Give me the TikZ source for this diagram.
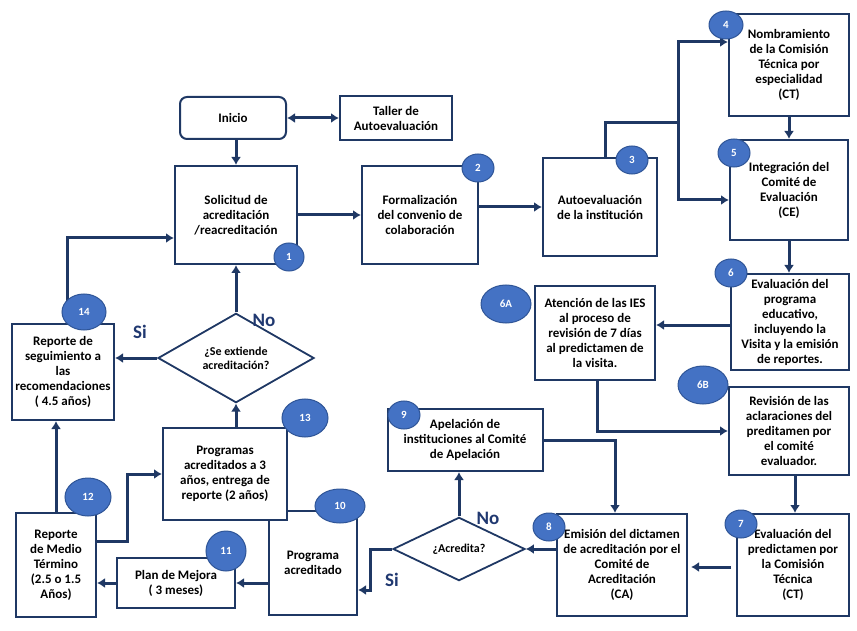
\documentclass[tikz,border=0pt]{standalone}
\usepackage{fontspec}
\setmainfont{Carlito}
\usetikzlibrary{shapes.geometric,arrows.meta}
\definecolor{navy}{RGB}{31,56,100}
\definecolor{numfill}{RGB}{68,114,196}
\definecolor{numline}{RGB}{47,85,151}
\definecolor{tagblue}{RGB}{32,56,112}
\begin{document}
\begin{tikzpicture}[x=1pt,y=-1pt,
  box/.style={draw=navy, line width=2pt, fill=white, align=center, inner sep=2pt,
    font=\fontsize{13}{15}\selectfont\bfseries},
  rbox/.style={box, rounded corners=7pt},
  ask/.style={diamond, draw=navy, line width=1.8pt, fill=white, inner sep=0pt, align=center,
    font=\fontsize{12}{14}\selectfont\bfseries},
  num/.style={ellipse, draw=numline, line width=1pt, fill=numfill, text=white, inner sep=0pt,
    font=\fontsize{11}{12}\selectfont\bfseries},
  link/.style={draw=navy, line width=3pt},
  arr/.style={link, -{Latex[length=8pt,width=10pt]}},
  twoway/.style={link, {Latex[length=8pt,width=10pt]}-{Latex[length=8pt,width=10pt]}},
  tag/.style={text=tagblue, font=\fontsize{19}{21}\selectfont\bfseries}]
\useasboundingbox (0,0) rectangle (857,631);

% boxes
\node[rbox, minimum width=106, minimum height=42] (ini) at (233,118) {Inicio};
\node[box, minimum width=112, minimum height=44] (tal) at (396,118) {Taller de\\Autoevaluación};
\node[box, minimum width=122, minimum height=98] (s1) at (236,215) {Solicitud de\\acreditación\\/reacreditación};
\node[box, minimum width=116, minimum height=98] (s2) at (420,215) {Formalización\\del convenio de\\colaboración};
\node[box, minimum width=114, minimum height=98] (s3) at (600,207) {Autoevaluación\\de la institución};
\node[box, minimum width=120, minimum height=102] (s4) at (789,65) {Nombramiento\\de la Comisión\\Técnica por\\especialidad\\(CT)};
\node[box, minimum width=118, minimum height=100] (s5) at (789,190) {Integración del\\Comité de\\Evaluación\\(CE)};
\node[box, minimum width=118, minimum height=96] (s6) at (790,322) {Evaluación del\\programa\\educativo,\\incluyendo la\\Visita y la emisión\\de reportes.};
\node[box, minimum width=120, minimum height=94] (s6a) at (595,333) {Atención de las IES\\al proceso de\\revisión de 7 días\\al predictamen de\\la visita.};
\node[box, minimum width=120, minimum height=88] (s6b) at (789,431) {Revisión de las\\aclaraciones del\\preditamen por\\el comité\\evaluador.};
\node[box, minimum width=112, minimum height=102] (s7) at (793,565) {Evaluación del\\predictamen por\\la Comisión\\Técnica\\(CT)};
\node[box, minimum width=130, minimum height=102] (s8) at (622,565) {Emisión del dictamen\\de acreditación por el\\Comité de\\Acreditación\\(CA)};
\node[box, minimum width=155, minimum height=62] (s9) at (465,440) {Apelación de\\instituciones al Comité\\de Apelación};
\node[box, minimum width=88, minimum height=104] (s10) at (313,563) {Programa\\acreditado};
\node[box, minimum width=118, minimum height=50] (s11) at (176,583) {Plan de Mejora\\( 3 meses)};
\node[box, minimum width=80, minimum height=104] (s12) at (56,565) {Reporte\\de Medio\\Término\\(2.5 o 1.5\\Años)};
\node[box, minimum width=124, minimum height=92] (s13) at (225,474) {Programas\\acreditados a 3\\años, entrega de\\reporte (2 años)};
\node[box, minimum width=102, minimum height=96] (s14) at (63,372) {Reporte de\\seguimiento a\\las\\recomendaciones\\( 4.5 años)};
\node[ask, minimum width=156, minimum height=60] (dS) at (236,358) {¿Se extiende\\acreditación?};
\node[ask, minimum width=132, minimum height=54] (dA) at (459,549) {¿Acredita?};

% connectors
\coordinate (fork) at (678,123);
\draw[twoway] (ini) -- (tal);
\draw[arr] (ini.south -| s1.north) -- (s1.north);
\draw[arr] (s1) -- (s2);
\draw[arr] (s2.east |- s3.west) -- (s3.west);
\draw[link] ([xshift=5]s3.north) |- (fork);
\draw[arr] (fork) |- ([yshift=23]s4.west);
\draw[arr] (fork) |- ([yshift=-10]s5.west);
\draw[arr] (s4.south) -- (s4.south |- s5.north);
\draw[arr] (s5.south) -- (s5.south |- s6.north);
\draw[arr] ([yshift=-3]s6.west) -- ([yshift=-3]s6.west -| s6a.east);
\draw[arr] ([xshift=2]s6a.south) |- (s6b.west);
\draw[arr] ([xshift=6]s6b.south) -- ([xshift=6]s6b.south |- s7.north);
\draw[arr, shorten <=5pt, shorten >=3pt] ([yshift=-2]s7.west) -- ([yshift=-2]s7.west -| s8.east);
\draw[arr] (s8.west |- dA.east) -- (dA.east);
\draw[arr] (dA.north) -- (dA.north |- s9.south);
\draw[arr] (s9.east) -| ([xshift=-7]s8.north);
\draw[arr] (dA.west) -- ++(-22,0) |- ([yshift=-27]s10.east);
\draw[arr] (s10.west |- s11.east) -- (s11.east);
\draw[arr] (s11.west) -- (s11.west -| s12.east);
\draw[arr] ([yshift=24]s12.east) -- ++(30,0) |- (s13.west);
\draw[arr] (s12.north) -- (s12.north |- s14.south);
\draw[arr] (s13.north -| dS.south) -- (dS.south);
\draw[arr] (dS.north) -- (dS.north |- s1.south);
\draw[arr] (dS.west) -- (dS.west -| s14.east);
\draw[arr] ([xshift=4]s14.north) |- ([yshift=-23]s1.west);

% labels on the branches
\node[tag] (no1) at (264,320) {No};
\node[tag] (si1) at (140,332) {Si};
\node[tag] (no2) at (488,518) {No};
\node[tag] (si2) at (392,580) {Si};

% step numbers
\node[num, minimum width=30, minimum height=28] (n1) at (289,257) {1};
\node[num, minimum width=32, minimum height=28] (n2) at (478,168) {2};
\node[num, minimum width=32, minimum height=28] (n3) at (632,160) {3};
\node[num, minimum width=34, minimum height=28] (n4) at (726,25) {4};
\node[num, minimum width=32, minimum height=28] (n5) at (734,153) {5};
\node[num, minimum width=32, minimum height=28] (n6) at (731,273) {6};
\node[num, minimum width=50, minimum height=38] (n6a) at (506,304) {6A};
\node[num, minimum width=50, minimum height=38] (n6b) at (703,385) {6B};
\node[num, minimum width=32, minimum height=28] (n7) at (741,524) {7};
\node[num, minimum width=32, minimum height=28] (n8) at (549,527) {8};
\node[num, minimum width=32, minimum height=28] (n9) at (404,415) {9};
\node[num, minimum width=50, minimum height=34] (n10) at (340,506) {10};
\node[num, minimum width=40, minimum height=40] (n11) at (226,551) {11};
\node[num, minimum width=46, minimum height=38] (n12) at (88,497) {12};
\node[num, minimum width=46, minimum height=38] (n13) at (305,418) {13};
\node[num, minimum width=44, minimum height=36] (n14) at (84,312) {14};
\end{tikzpicture}
\end{document}
